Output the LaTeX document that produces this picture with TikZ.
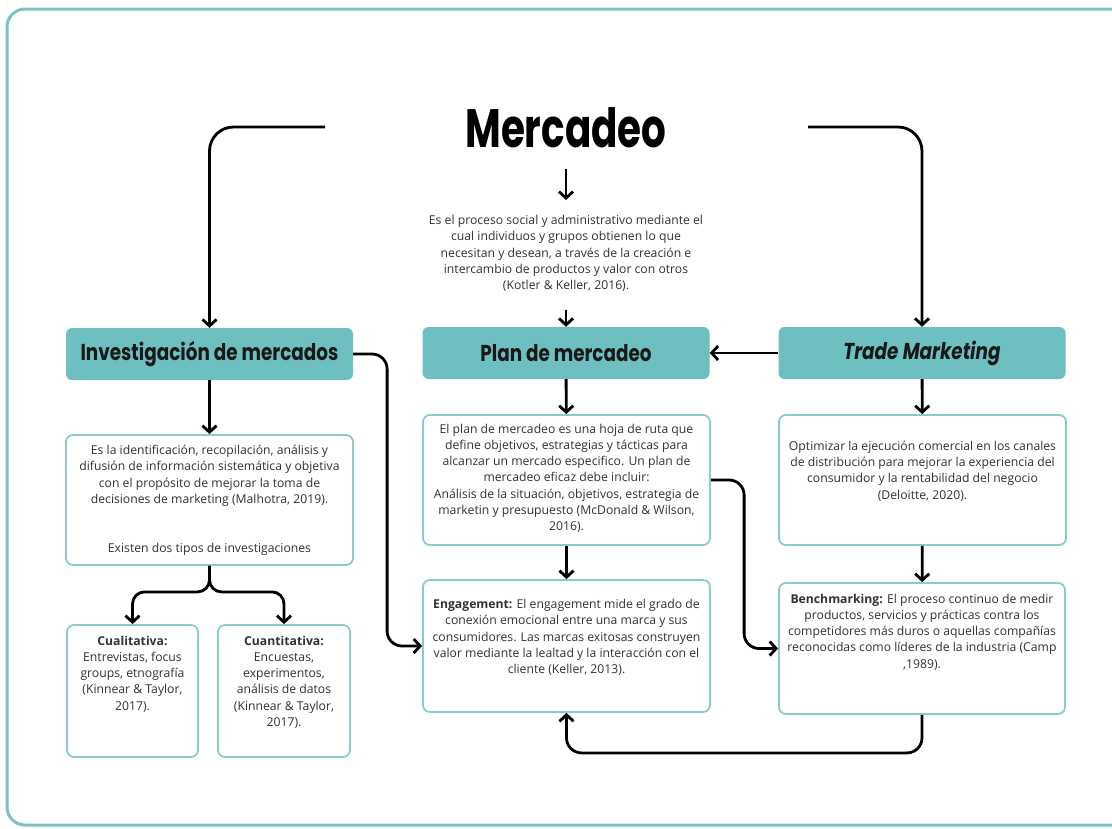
\documentclass[tikz,border=0pt]{standalone}
\usepackage{fontspec}
\usepackage{graphicx}
\setmainfont{Open Sans}
\newfontfamily\headfont{Poppins}
\usetikzlibrary{positioning,arrows.meta}
\definecolor{tealfill}{RGB}{110,192,192}
\definecolor{tealline}{RGB}{140,202,202}
\definecolor{frameline}{RGB}{122,195,195}
\definecolor{bodygray}{RGB}{50,50,50}
\newcommand{\squeezed}[2]{\scalebox{#1}[1]{#2}}
\tikzset{%
frame/.style={draw=frameline,line width=3pt,rounded corners=18pt},
header/.style={fill=tealfill,rounded corners=6pt,minimum width=287pt,minimum height=52pt,inner sep=0,font=\headfont\bfseries\fontsize{23}{26}\selectfont,text=black!90},
infobox/.style={draw=tealline,line width=1.8pt,rounded corners=7pt,fill=white},
bodytext/.style={align=center,inner sep=0,text=bodygray,font=\fontsize{12.2}{16.3}\selectfont},
link/.style={line width=2.8pt,-{Straight Barb[length=6.5pt,width=14pt]}}
}

\begin{document}
\begin{tikzpicture}[x=1pt,y=-1pt]
    \useasboundingbox (0,0) rectangle (1112,828);
    \draw[frame] (1112,9) -- (7,9) -- (7,825) -- (1112,825);

    \node[font=\headfont\bfseries\fontsize{54}{60}\selectfont] (title) at (566,128) {\squeezed{0.72}{Mercadeo}};
    \node[bodytext,anchor=north] (def) at (566,215) {Es el proceso social y administrativo mediante el\\
      cual individuos y grupos obtienen lo que\\
      necesitan y desean, a través de la creación e\\
      intercambio de productos y valor con otros\\
      (Kotler \& Keller, 2016).};

    \coordinate (tl) at (325,127);
    \coordinate (tr) at (808,127);

    \node[header] (inv) at (209.5,354) {\squeezed{0.8}{Investigación de mercados}};
    \node[header] (plan) at (566,353) {\squeezed{0.8}{Plan de mercadeo}};
    \node[header] (trade) at (922,353) {\squeezed{0.8}{\itshape Trade Marketing}};

    \node[infobox,minimum width=287pt,minimum height=130pt] (invdef) at (209.5,500) {};
    \node[infobox,minimum width=287pt,minimum height=130pt] (plandef) at (566.5,480) {};
    \node[infobox,minimum width=287pt,minimum height=130pt] (tradedef) at (922.5,480) {};
    \node[infobox,minimum width=287pt,minimum height=132pt] (engage) at (566.5,646) {};
    \node[infobox,minimum width=286pt,minimum height=131pt] (bench) at (922,648.5) {};
    \node[infobox,minimum width=131pt,minimum height=132pt] (cual) at (132.5,691) {};
    \node[infobox,minimum width=132pt,minimum height=132pt] (cuan) at (284,691) {};

    \node[bodytext,below=11pt of invdef.north] (invtxt) {Es la identificación, recopilación, análisis y\\
      difusión de información sistemática y objetiva\\
      con el propósito de mejorar la toma de\\
      decisiones de marketing (Malhotra, 2019).\\[32.6pt]
      Existen dos tipos de investigaciones};
    \node[bodytext,below=9.5pt of plandef.north] (plantxt) {El plan de mercadeo es una hoja de ruta que\\
      define objetivos, estrategias y tácticas para\\
      alcanzar un mercado especifico. Un plan de\\
      mercadeo eficaz debe incluir:\\
      Análisis de la situación, objetivos, estrategia de\\
      marketin y presupuesto (McDonald \& Wilson,\\
      2016).};
    \node[bodytext,below=26.5pt of tradedef.north] (tradetxt) {Optimizar la ejecución comercial en los canales\\
      de distribución para mejorar la experiencia del\\
      consumidor y la rentabilidad del negocio\\
      (Deloitte, 2020).};
    \node[bodytext,below=20pt of engage.north] (engtxt) {\textbf{Engagement:} El engagement mide el grado de\\
      conexión emocional entre una marca y sus\\
      consumidores. Las marcas exitosas construyen\\
      valor mediante la lealtad y la interacción con el\\
      cliente (Keller, 2013).};
    \node[bodytext,below=11.5pt of bench.north] (benchtxt) {\textbf{Benchmarking:} El proceso continuo de medir\\
      productos, servicios y prácticas contra los\\
      competidores más duros o aquellas compañías\\
      reconocidas como líderes de la industria (Camp\\
      ,1989).};
    \node[bodytext,below=11.5pt of cual.north] (cualtxt) {\textbf{Cualitativa:}\\
      Entrevistas, focus\\
      groups, etnografía\\
      (Kinnear \& Taylor,\\
      2017).};
    \node[bodytext,below=11.5pt of cuan.north] (cuantxt) {\textbf{Cuantitativa:}\\
      Encuestas,\\
      experimentos,\\
      análisis de datos\\
      (Kinnear \& Taylor,\\
      2017).};

    \draw[link,rounded corners=24pt] (tl) -| (inv);
    \draw[link,rounded corners=24pt] (tr) -| (trade);
    \draw[link,shorten <=17pt,shorten >=15pt] (title) -- (def);
    \draw[link,shorten <=18pt] (def) -- (plan);
    \draw[link] (trade) -- (plan);

    \draw[link] (inv) -- (invdef);
    \draw[link] (plan) -- (plandef);
    \draw[link] (trade) -- (tradedef);
    \draw[link] (plandef) -- (engage);
    \draw[link] (tradedef) -- (bench);

    \draw[link,rounded corners=15pt] (inv.east) -| ([xshift=-35pt]engage.west) -- (engage.west);
    \draw[link,rounded corners=15pt] (plandef.east) -| ([xshift=-34pt]bench.west) -- (bench.west);
    \draw[link,rounded corners=15pt] (bench.south) |- ([yshift=-40pt]engage.south) -- (engage.south);

    \draw[link,rounded corners=12pt] (invdef.south) -- ++(0,26) -| (cual);
    \draw[link,rounded corners=12pt] (invdef.south) -- ++(0,26) -| (cuan);

\end{tikzpicture}
\end{document}
